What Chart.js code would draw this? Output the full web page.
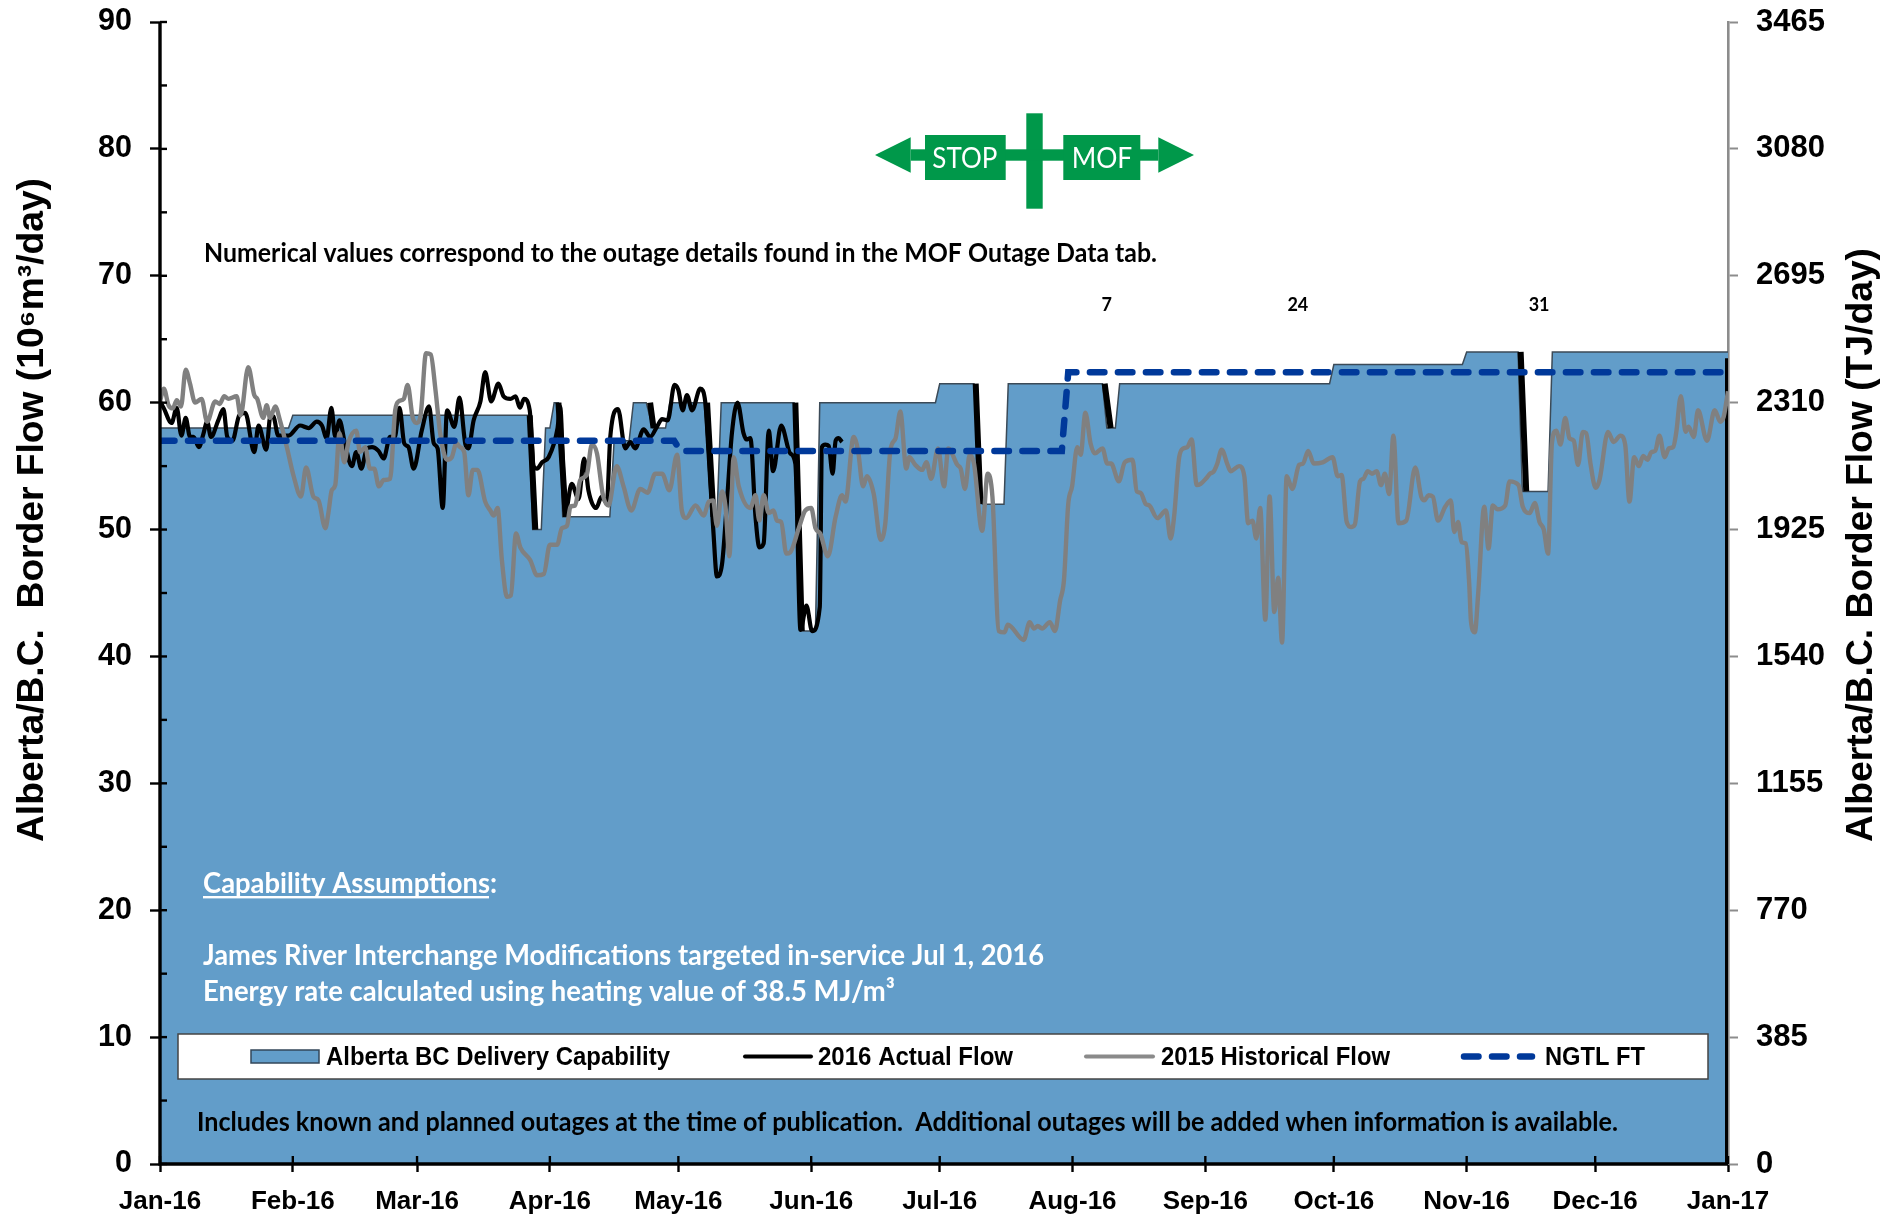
<!DOCTYPE html>
<html>
<head>
<meta charset="utf-8">
<title>Alberta/B.C. Border Flow</title>
<script src="https://cdn.jsdelivr.net/npm/chart.js@4"></script>
<style>
html,body{margin:0;padding:0;background:#fff;}
canvas{display:block;}
</style>
</head>
<body>
<canvas id="c" width="1900" height="1217"></canvas>
<script>
const monthTickDays = [0,31,60,91,121,152,182,213,244,274,305,335,366];
const monthLabels = ["Jan-16","Feb-16","Mar-16","Apr-16","May-16","Jun-16","Jul-16","Aug-16","Sep-16","Oct-16","Nov-16","Dec-16","Jan-17"];

const capabilityDays = [0,30,31,86,87,89,90,91,92,93,94,105,106,109.5,110.5,113.5,115,118,119,127,129,130,131,148,149.5,153,154,181,182,190,192,197,198,220,221,223,224,273,274,304,305,317,318,324,325,366];
const capabilityValues = [58,58,59,59,50,50,58,58,60,60,51,51,57,57,60,60,58,58,60,60,51,51,60,60,42,42,60,60,61.5,61.5,52,52,61.5,61.5,58,58,61.5,61.5,63,63,64,64,53,53,64,64];

const actual2016Days = [0,0.9,2.7,3.9,5,6,7,7.8,9.1,10.1,11,11.9,13.6,14.8,15.7,16.9,18.5,19.9,22,23,24.8,25.8,26.5,27.6,30,32.7,34.7,36.6,37.8,38.9,40,40.9,41.9,43.2,44.8,45.8,47,48.3,49.5,51,52.2,53.7,54.8,55.9,57,58,59.2,61.1,62.8,63.9,64.8,66,67,68.7,69.9,71.3,72,73.2,74.8,75.9,77.3,79,80.2,81.8,83,84,85,86.3,87.2,88,89.2,90.7,92.8,93.4,94.6,96.1,97.7,99,100,101.8,103.1,104.3,105.1,106.9,108.6,109.8,110.9,112.9,114.4,116,117.2,118.5,120.1,121,122,123,124.2,126.1,127.3,128,129.2,130,131.2,132.3,133.5,134.8,136.2,136.9,137.8,139,139.9,140.9,142.1,143.1,145,147.1,148.3,149.5,150.9,152.2,154,154.5,155.3,156.1,157,157.7,158.4,159.2];
const actual2016Values = [60.1,59.55,58.4,59.6,57.4,58.8,57.3,57.3,56.5,57.5,58.5,57.3,58.6,59.5,57.3,57,59,59.2,56.1,58.2,56.3,59,58.9,57.4,57.4,58.2,58,58.5,58.2,57.2,59.6,57.3,58.6,56.7,55,56.1,54.8,56.4,56.5,56.2,55.6,57.3,57.3,59.6,56.8,56.5,54.8,57.8,59.7,56.8,56.4,51.7,59.4,58.1,60.4,56.7,56.4,58.6,60.1,62.4,60.1,61.5,60.5,60.3,60.5,59.6,60.3,59.4,55,54.8,55.3,55.7,58,59.7,51.3,53.6,52.4,55.6,53.1,51.7,52.6,52.1,57.3,59.5,56.4,56.9,56.4,57.9,57.3,58.1,58.7,58.6,61.4,61,59.4,60.6,59.4,61.1,60,56.3,49.7,46.3,47.3,52,57.6,60,57.6,57.1,57.2,51,48.6,48.9,57.8,54.6,58.2,56,55.2,42.1,44,42,43.9,56.5,56.7,56.6,54.4,57,57.2,56.9];

const historical2015Days = [0,0.9,2,3,3.9,4.9,6,7,8.2,9.7,11,12.9,13.9,15,16,17.9,18.8,20.6,22,22.7,24.1,24.9,25.7,26.9,28,29.6,31.2,32.9,34.1,35.8,37,38.6,39.3,40.1,40.9,41.9,43,44,45.8,46.7,47.9,49,50,51.1,52.2,53.7,54.9,55.7,56.9,57.8,59,60,60.9,62.1,63.2,64.3,65.4,67,68.1,69.2,70,71,72,73,74.1,75.9,77.1,77.9,78.8,79.8,81,81.9,83.1,84.1,86.4,88,89.6,91,92.7,93.8,95,95.8,96.9,98.1,99.6,100.8,102,103.4,104.7,106.6,108.2,110,112.1,113.8,115.6,117.2,118.9,120.7,121.8,122.8,125,126.9,128.1,129.1,130,131.2,132,132.9,133.9,135.1,137.8,139,139.9,140.9,142.1,143.2,144,145,146.2,147.1,149.1,150.6,152,153,154.1,155.9,157.7,159.2,160,161.9,162.9,164.1,165,166.6,168.2,169.3,170.5,171.7,172.8,174.2,174.9,176.3,177.9,178.9,180,181.6,183,184,186.1,186.9,187.9,189,190,191.9,193.2,194.3,195.8,197.1,197.9,201.6,203,204,204.9,205.9,207.7,208.9,210.1,211,212,212.9,214.1,214.9,216,217.2,218.2,220,221.1,222,223.8,225.2,227,228,228.9,230.1,230.9,232.8,234.8,235.9,236.7,237.9,238.9,239.8,240.8,242,242.9,244.1,245.1,246,246.8,247.8,249.2,249.9,251.9,253.1,254,255,255.9,256.8,258,259,260.1,261,261.9,263,264.3,265.9,266.8,268,269.3,271.4,273.7,274.9,275.8,277,278,278.9,280.1,280.9,281.9,282.9,284,285,285.9,286.9,287.9,289.1,290.9,293,294.4,295.1,296.1,297.1,298.3,300,301.3,302.1,303,303.8,304.8,305.6,306,306.9,307.7,309.1,310.1,311.1,312.2,314,315,317.1,318.1,319.7,320.9,322,323,324,324.9,325.9,326.9,328,329,330,331,332.1,332.9,333.9,335.1,336,338,339.3,340.9,342,343,344.1,345.2,346.2,347.2,348.1,349,350,351.2,352.2,353.2,353.9,355,356.1,356.8,358,359,361.1,362.9,364.2,365,366];
const historical2015Values = [60.1,61.1,59.8,59.55,60.2,59.7,62.6,61.5,60,60.3,58.5,60.1,59.9,60.5,60.3,60.5,59,62.8,60.6,60.3,58.8,59.8,58.8,59.7,58.6,56.5,54.2,52.6,54.9,52.6,52.3,50.1,51.3,53.1,53.5,57.6,55.3,56.9,57.8,56.1,56.5,54.8,54.8,53.4,53.9,54,59.4,60.1,60.3,61.4,58.8,58.4,59.2,63.9,63.8,61,57.6,55.5,55.7,56.8,56.5,56.1,52.7,54.7,54.7,52.2,51.5,51.1,51.7,47.6,44.7,44.8,49.7,48.6,47.6,46.4,46.5,48.8,48.8,50.1,50.3,51.8,51.9,53.9,54.3,56.7,56,52.7,51.9,55,53.4,51.5,53.2,52.9,54.4,54.4,53.1,55.9,51.5,50.9,51.9,51.1,52.2,52.3,50.3,53,51.8,47.9,55.7,53.4,51.7,52.7,50.7,52.7,51.3,51.5,50.7,50.6,48.1,48.2,50.1,51.5,51.7,50.1,49.7,47.9,51,52.7,52.2,57.3,56.3,53.4,54.2,52.8,49.2,50.5,56.3,57.2,59.3,54.8,55.7,55.1,54.7,55.3,54,56.4,53.4,56.4,55.1,54.8,53.2,55.9,55.2,49.9,54.4,52.6,42,41.9,42.5,41.3,42.7,42.2,42.4,42.2,42.7,42,44.4,46,52,53.4,56.5,55.9,59.2,56.8,56,56.4,55.2,55.2,53.8,55.3,55.5,53,52.9,52,51.9,50.9,51.5,49.3,51,55.7,56.4,56.5,57.1,53.5,53.6,54,54.4,54.6,55.2,56.3,55.1,54.6,55,54.2,50.5,50.7,49.3,51.7,42.9,52.6,43.5,46.2,41.1,54.2,53.2,55.1,55.2,56.2,55.2,55.3,55.7,54.2,54.3,50.6,50.2,50.4,53.8,54,54.6,54.4,54.6,53.5,54.4,52.8,57.4,50.5,50.7,54.9,52.6,52.3,52.7,52.6,50.7,51.8,52.3,49.8,50.6,49,48.9,45.7,42.8,41.9,45,51.8,48.5,51.9,51.6,51.9,53.8,53.5,51.8,51.3,52.1,50.6,50,48.1,56.8,57.8,56.7,58.8,57.2,57,55.1,57.7,57.6,55.2,53.3,53.9,57.7,56.9,57.4,56.7,52.2,55.7,55,55.8,55.5,56.1,56.2,57.4,55.7,56.4,56.5,57.6,60.5,57.7,58.1,57.3,59.4,57,59.4,58.5,58.9,60.9];

const ngtlDays = [0,120,121.5,210.5,212,366];
const ngtlValues = [57,57,56.2,56.2,62.4,62.4];

const outageDays = [86.3,87.6,null,93,94.7,null,114.4,115.2,null,127.7,129.2,null,148.3,149.8,null,190.4,191.5,null,220.5,221.9,null,317.6,318.9,null,366,366];
const outageValues = [59,50,null,60,51,null,60,58,null,60,51,null,60,42,null,61.5,52,null,61.5,58,null,64,53,null,63.5,0];

const leftTicks = [0,10,20,30,40,50,60,70,80,90];
const rightTicks = [0,385,770,1155,1540,1925,2310,2695,3080,3465];
const seriesNames = ["Alberta BC Delivery Capability","2016 Actual Flow","2015 Historical Flow","NGTL FT"];
const leftTitle = "Alberta/B.C.  Border Flow (10\u2076m\u00B3/day)";
const rightTitle = "Alberta/B.C. Border Flow (TJ/day)";
const outageLabels = ["7","24","31"];
const outageLabelDays = [221,265.6,321.9];

const toXY = (xs, ys) => xs.map((x,i)=>({x:x===null?NaN:x, y:ys[i]}));
const ARIAL = '"Liberation Sans", Arial, sans-serif';
const CALIBRI = 'Lato, "Noto Sans", sans-serif';
const BLUE = '#629DC9', GREEN = '#00984A', NAVY = '#00399A', GREY = '#808080';

function fit(ctx, text, x, y, w){
  const m = ctx.measureText(text).width;
  ctx.save();
  ctx.translate(x,y);
  ctx.scale(w/m,1);
  ctx.textAlign='left';
  ctx.fillText(text,0,0);
  ctx.restore();
}

const overlay = {
  id:'overlay',
  afterDatasetsDraw(chart){
    const {ctx, scales:{x,y}} = chart;
    ctx.save();
    ctx.textBaseline='alphabetic';
    ctx.strokeStyle='#000'; ctx.lineWidth=2.4;
    for(let v=0;v<=90;v+=5){
      const p=y.getPixelForValue(v);
      ctx.beginPath();ctx.moveTo(160,p);ctx.lineTo(167,p);ctx.stroke();
    }
    monthTickDays.forEach(d=>{
      const p=x.getPixelForValue(d);
      ctx.beginPath();ctx.moveTo(p,y.bottom);ctx.lineTo(p,y.bottom-8);ctx.stroke();
    });
    ctx.lineWidth=3.4;
    ctx.beginPath();ctx.moveTo(160,y.top);ctx.lineTo(160,y.bottom);ctx.lineTo(x.right,y.bottom);ctx.stroke();

    ctx.fillStyle='#000';
    ctx.font='bold 36px '+ARIAL;
    ctx.save();ctx.translate(43,842);ctx.rotate(-Math.PI/2);fit(ctx,leftTitle,0,0,664);ctx.restore();
    ctx.save();ctx.translate(1872,842);ctx.rotate(-Math.PI/2);fit(ctx,rightTitle,0,0,594);ctx.restore();

    ctx.fillStyle='#fff';ctx.strokeStyle='#444';ctx.lineWidth=1.5;
    ctx.fillRect(178,1034,1530,45);ctx.strokeRect(178,1034,1530,45);
    ctx.fillStyle=BLUE;ctx.strokeStyle='#33475a';ctx.lineWidth=1.5;
    ctx.fillRect(251,1050,68,13);ctx.strokeRect(251,1050,68,13);
    ctx.lineCap='round';
    ctx.strokeStyle='#000';ctx.lineWidth=4;
    ctx.beginPath();ctx.moveTo(745,1056.5);ctx.lineTo(811,1056.5);ctx.stroke();
    ctx.strokeStyle='#8a8a8a';
    ctx.beginPath();ctx.moveTo(1086,1056.5);ctx.lineTo(1153,1056.5);ctx.stroke();
    ctx.strokeStyle=NAVY;ctx.lineWidth=6.5;ctx.setLineDash([14.5,13.5]);
    ctx.beginPath();ctx.moveTo(1464,1056.5);ctx.lineTo(1532,1056.5);ctx.stroke();
    ctx.setLineDash([]);ctx.lineCap='butt';
    ctx.fillStyle='#000';ctx.font='bold 25px '+ARIAL;
    fit(ctx,seriesNames[0],326,1065,344);
    fit(ctx,seriesNames[1],818,1065,195);
    fit(ctx,seriesNames[2],1161,1065,229);
    fit(ctx,seriesNames[3],1545,1065,100);

    ctx.font='bold 26px '+CALIBRI;
    ctx.fillStyle='#000';
    fit(ctx,"Numerical values correspond to the outage details found in the MOF Outage Data tab.",204,262,953);
    fit(ctx,"Includes known and planned outages at the time of publication.  Additional outages will be added when information is available.",197,1131,1421);
    ctx.fillStyle='#fff';
    ctx.font='bold 29px '+CALIBRI;
    fit(ctx,"Capability Assumptions:",203,893,294);
    ctx.fillRect(203,896,286,2.4);
    fit(ctx,"James River Interchange Modifications targeted in-service Jul 1, 2016",203,965,841);
    fit(ctx,"Energy rate calculated using heating value of 38.5 MJ/m\u00B3",203,1001,692);

    ctx.fillStyle='#000';ctx.font='bold 18px '+CALIBRI;ctx.textAlign='center';
    outageLabels.forEach((t,i)=>ctx.fillText(t,x.getPixelForValue(outageLabelDays[i]),311));
    ctx.textAlign='left';

    ctx.fillStyle=GREEN;
    ctx.fillRect(1026.3,113.3,16.4,95.4);
    ctx.fillRect(910.7,149.3,247.6,11.4);
    ctx.fillRect(925,135,80.7,45);
    ctx.fillRect(1063.3,135,77,45);
    ctx.beginPath();ctx.moveTo(875,155);ctx.lineTo(910.7,137.3);ctx.lineTo(910.7,172.7);ctx.closePath();ctx.fill();
    ctx.beginPath();ctx.moveTo(1194,155);ctx.lineTo(1158.3,137.3);ctx.lineTo(1158.3,172.7);ctx.closePath();ctx.fill();
    ctx.fillStyle='#fff';ctx.font='28px '+CALIBRI;
    fit(ctx,"STOP",932.3,168.3,65);
    fit(ctx,"MOF",1071.7,168.3,60.6);
    ctx.restore();
  }
};

const plain = v => String(v);

new Chart(document.getElementById('c').getContext('2d'),{
  type:'line',
  data:{datasets:[
    {label:seriesNames[0],data:toXY(capabilityDays,capabilityValues),yAxisID:'y',borderColor:'#3b4a57',borderWidth:1.5,backgroundColor:BLUE,fill:'origin',pointRadius:0,tension:0,order:5},
    {label:'Outage edges',data:toXY(outageDays,outageValues),yAxisID:'y',borderColor:'#000',borderWidth:6,pointRadius:0,fill:false,tension:0,spanGaps:false,borderCapStyle:'butt',order:4},
    {label:seriesNames[1],data:toXY(actual2016Days,actual2016Values),yAxisID:'y',borderColor:'#000',borderWidth:4.2,pointRadius:0,fill:false,cubicInterpolationMode:'monotone',order:3},
    {label:seriesNames[2],data:toXY(historical2015Days,historical2015Values),yAxisID:'y',borderColor:GREY,borderWidth:4.4,pointRadius:0,fill:false,cubicInterpolationMode:'monotone',order:2},
    {label:seriesNames[3],data:toXY(ngtlDays,ngtlValues),yAxisID:'y',borderColor:NAVY,borderWidth:6.5,borderDash:[14.5,13.5],borderCapStyle:'round',pointRadius:0,fill:false,tension:0,order:1}
  ]},
  options:{
    responsive:false,animation:false,devicePixelRatio:1,
    layout:{padding:{top:22,left:0,right:0,bottom:0}},
    plugins:{legend:{display:false},tooltip:{enabled:false},title:{display:false}},
    scales:{
      x:{type:'linear',min:0,max:366,
        afterFit(s){s.height=53;s.paddingLeft=0;s.paddingRight=0;},
        afterBuildTicks(s){s.ticks=monthTickDays.map(v=>({value:v}));},
        afterTickToLabelConversion(s){s.ticks.forEach((t,i)=>{t.label=monthLabels[i];});},
        border:{display:false},
        grid:{drawOnChartArea:false,tickLength:8,tickColor:'#000',tickWidth:2.4},
        ticks:{autoSkip:false,maxRotation:0,minRotation:0,padding:14,color:'#000',font:{family:ARIAL,weight:'bold',size:26}}
      },
      y:{type:'linear',position:'left',min:0,max:90,
        afterFit(s){s.width=160;s.paddingTop=0;s.paddingBottom=0;},
        afterBuildTicks(s){s.ticks=leftTicks.map(v=>({value:v}));},
        border:{display:false},
        grid:{drawOnChartArea:false,tickLength:10,tickColor:'#000',tickWidth:2.4},
        ticks:{padding:18,color:'#000',callback:plain,font:{family:ARIAL,weight:'bold',size:30.5}}
      },
      y2:{type:'linear',position:'right',min:0,max:3465,
        afterFit(s){s.width=172;s.paddingTop=0;s.paddingBottom=0;},
        afterBuildTicks(s){s.ticks=rightTicks.map(v=>({value:v}));},
        border:{display:true,color:'#8c8c8c',width:2.6},
        grid:{drawOnChartArea:false,tickLength:10,tickColor:'#8c8c8c',tickWidth:2},
        ticks:{padding:18,color:'#000',callback:plain,font:{family:ARIAL,weight:'bold',size:31}}
      }
    }
  },
  plugins:[overlay]
});
</script>
</body>
</html>
